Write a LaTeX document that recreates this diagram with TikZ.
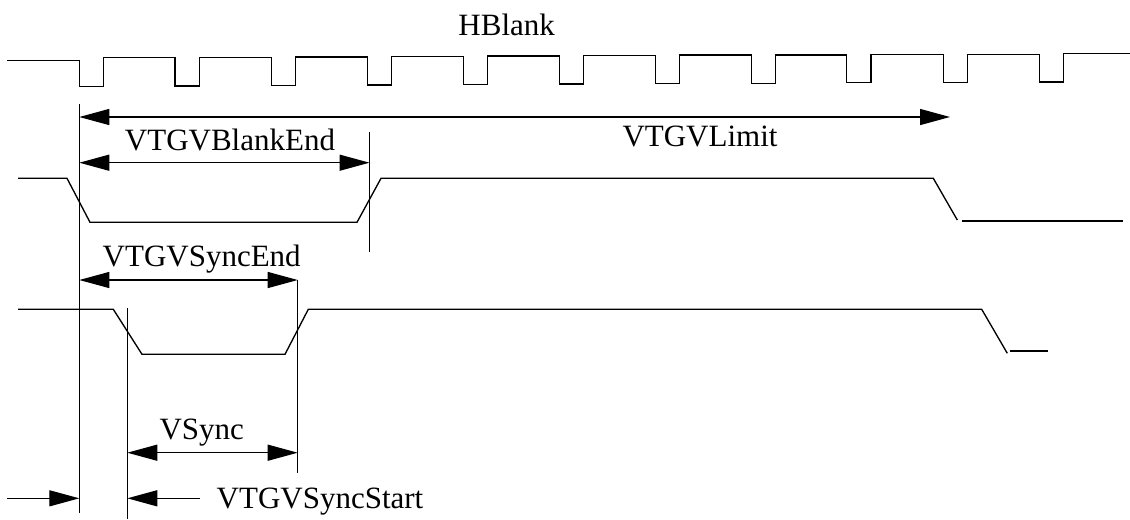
\documentclass[tikz,border=0pt]{standalone}
\usepackage{fontspec}
\setmainfont{Liberation Serif}
\usetikzlibrary{arrows.meta}
\tikzset{
  wave/.style={line width=1pt, line join=miter},
  mark line/.style={line width=1pt},
  dimboth/.style={line width=1pt, {Triangle[length=22.5pt,width=12pt]}-{Triangle[length=22.5pt,width=12pt]}},
  dimone/.style={line width=1pt, -{Triangle[length=22.5pt,width=12pt]}},
  lbl/.style={inner sep=0pt, anchor=base, font=\fontsize{23.25}{28}\selectfont}
}
\begin{document}
\begin{tikzpicture}[x=0.75pt,y=-0.75pt]
\useasboundingbox (0,0) rectangle (1130,519);
% HBlank waveform
\draw[wave] (7,60.7) -- (79.3,60.7) -- (79.3,86.5) -- (103.3,86.5) -- (103.3,57.7)
 -- (175,57.7) -- (175,86) -- (199.3,86) -- (199.3,57.3)
 -- (271.7,57.3) -- (271.7,85.5) -- (295.7,85.5) -- (295.7,57)
 -- (367.7,57) -- (367.7,85) -- (391.7,85) -- (391.7,56.5)
 -- (463.3,56.5) -- (463.3,84.5) -- (487.3,84.5) -- (487.3,56)
 -- (559.3,56) -- (559.3,84) -- (583.3,84) -- (583.3,55.5)
 -- (655.3,55.5) -- (655.3,83.5) -- (679.3,83.5) -- (679.3,55)
 -- (751.7,55) -- (751.7,83.3) -- (775.7,83.3) -- (775.7,55)
 -- (846.7,55) -- (846.7,82.5) -- (871,82.5) -- (871,54.7)
 -- (943.3,54.7) -- (943.3,82.3) -- (967.3,82.3) -- (967.3,54.5)
 -- (1039.3,54.5) -- (1039.3,82) -- (1063.3,82) -- (1063.3,53.3) -- (1130,53.3);
% VBlank waveform
\draw[wave] (18,178.3) -- (67,178.3) -- (90,222.3) -- (357,222.3) -- (381,178.3) -- (933.3,178.3) -- (957.3,220);
\draw[wave] (962.3,221) -- (1122.7,221);
% VSync waveform
\draw[wave] (18,309.3) -- (113.3,309.3) -- (142,354.3) -- (285,354.3) -- (308.3,309.3) -- (981.7,309.3) -- (1007.3,353.3);
\draw[wave] (1010,351) -- (1047.7,351);
% marker lines
\coordinate (l1t) at (79.3,104.3);  \coordinate (l1b) at (79.3,513);
\coordinate (l2t) at (127.3,308.3); \coordinate (l2b) at (127.3,519);
\coordinate (l3t) at (297.7,280);   \coordinate (l3b) at (297.7,473.3);
\coordinate (l4t) at (369.5,132);   \coordinate (l4b) at (369.5,252);
\draw[mark line] (l1t) -- (l1b);
\draw[mark line] (l2t) -- (l2b);
\draw[mark line] (l3t) -- (l3b);
\draw[mark line] (l4t) -- (l4b);
% dimension arrows
\coordinate (limA) at (79.3,117);   \coordinate (limB) at (950,117);
\coordinate (bleA) at (79.3,162.7); \coordinate (bleB) at (369.5,162.7);
\coordinate (sendA) at (79.3,280);  \coordinate (sendB) at (297.7,280);
\coordinate (vsA) at (127.3,452.7); \coordinate (vsB) at (297.7,452.7);
\coordinate (stA0) at (7,498.3);    \coordinate (stA1) at (79.3,498.3);
\coordinate (stB0) at (200,498.3);  \coordinate (stB1) at (127.3,498.3);
\draw[dimboth] (limA) -- (limB);
\draw[dimboth] (bleA) -- (bleB);
\draw[dimboth] (sendA) -- (sendB);
\draw[dimboth] (vsA) -- (vsB);
\draw[dimone] (stA0) -- (stA1);
\draw[dimone] (stB0) -- (stB1);
% labels
\node[lbl] (hblank) at (506.7,35) {HBlank};
\node[lbl] (vlimit) at (700,146.7) {VTGVLimit};
\node[lbl] (vblankend) at (230,150) {VTGVBlankEnd};
\node[lbl] (vsyncend) at (201.7,266.7) {VTGVSyncEnd};
\node[lbl] (vsync) at (201.7,439.3) {VSync};
\node[lbl] (vsyncstart) at (320,508.3) {VTGVSyncStart};
\end{tikzpicture}
\end{document}
